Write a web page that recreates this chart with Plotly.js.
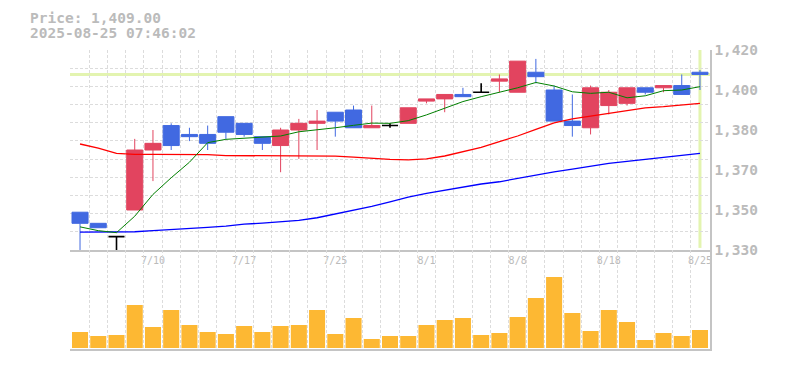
<!DOCTYPE html>
<html><head><meta charset="utf-8">
<script src="https://cdn.plot.ly/plotly-3.0.1.min.js"></script>
<style>html,body{margin:0;padding:0;background:#fff}#chart{width:785px;height:370px}</style>
</head><body><div id="chart"></div>
<script>
const dates = ['7/4','7/7','7/8','7/9','7/10','7/11','7/14','7/15','7/16','7/17','7/18','7/22','7/23','7/24','7/25','7/28','7/29','7/30','7/31','8/1','8/4','8/5','8/6','8/7','8/8','8/12','8/13','8/14','8/15','8/18','8/19','8/20','8/21','8/22','8/25'];
const opens  = [1347,1342,1336,1348,1375,1386,1382,1382,1390,1387,1381,1377,1384,1387,1392,1393,1385,1386,1387,1397,1398,1400,1401,1406,1401,1410,1402,1388,1385,1395,1396,1403,1403,1404,1410];
const highs  = [1347,1342,1336,1380,1384,1387,1385,1386,1390,1387,1381,1385,1389,1393,1392,1395,1395,1387,1394,1398,1400,1403,1405,1409,1415,1416,1404,1400,1404,1402,1403,1403,1404,1409,1411];
const lows   = [1330,1340,1330,1348,1361,1375,1379,1375,1380,1381,1375,1365,1371,1375,1381,1385,1385,1385,1387,1396,1392,1399,1401,1401,1401,1405,1388,1381,1382,1391,1395,1400,1401,1400,1402];
const closes = [1342,1340,1336,1375,1378,1377,1381,1378,1383,1382,1378,1384,1387,1388,1388,1385,1386,1386,1394,1398,1400,1399,1401,1407,1415,1408,1388,1386,1403,1401,1403,1401,1404,1400,1409];
const ma5  = [1340.4,1338.7,1337.8,1345.2,1355.0,1362.5,1369.5,1378.3,1379.8,1380.3,1380.5,1381.3,1383.2,1384.0,1385.0,1386.1,1387.1,1387.0,1388.2,1390.8,1393.8,1396.8,1399.0,1401.0,1403.0,1405.4,1403.8,1401.2,1400.5,1401.0,1398.5,1399.4,1401.7,1402.0,1403.5];
const ma25 = [1377.7,1375.8,1373.5,1373.0,1373.0,1373.0,1372.9,1372.9,1372.5,1372.5,1372.3,1372.2,1372.2,1372.2,1372.2,1371.8,1371.2,1370.8,1370.6,1371.0,1372.3,1374.2,1376.2,1378.8,1381.3,1384.3,1387.2,1389.0,1390.3,1391.5,1393.0,1394.0,1394.5,1395.2,1396.0];
const ma75 = [1338.0,1338.0,1338.0,1338.2,1338.7,1339.1,1339.7,1340.2,1340.7,1341.6,1342.1,1342.7,1343.3,1344.5,1346.2,1347.8,1349.6,1351.7,1353.8,1355.5,1357.0,1358.3,1359.7,1360.7,1362.2,1364.0,1365.2,1366.4,1367.8,1369.0,1369.9,1370.8,1371.7,1372.6,1373.5];
const volumes = [16000,12000,13000,43000,21000,38000,23000,16000,14000,22000,16000,22000,23000,38000,14000,30000,9000,12000,12000,23000,28000,30000,13000,15000,31000,50000,71000,35000,17000,38000,26000,8000,15000,12000,18000];
const labelDates = ['7/10','7/17','7/25','8/1','8/8','8/18','8/25'];
const yTickVals = [1330,1348,1366,1384,1402,1420];
const yTickText = ['1,330','1,350','1,370','1,380','1,400','1,420'];
const priceText = 'Price: 1,409.00';
const timeText = '2025-08-25 07:46:02';

const idx = dates.map((d,i)=>i);
const upIdx = idx.filter(i=>closes[i]>opens[i]);
const downIdx = idx.filter(i=>closes[i]<opens[i]);
const flatIdx = idx.filter(i=>closes[i]===opens[i]);
const RED='#e2445f', BLUE='#4169e1', GRID='#dcdcdc', AXL='#c4c4c4', TXT='#bbbbbb';
const last = dates.length-1;

function cs(ix,color,lw){
  return {type:'candlestick', x:ix, open:ix.map(i=>opens[i]), high:ix.map(i=>highs[i]), low:ix.map(i=>lows[i]), close:ix.map(i=>closes[i]),
    increasing:{line:{color:color,width:lw},fillcolor:color}, decreasing:{line:{color:color,width:lw},fillcolor:color},
    whiskerwidth:0, hoverinfo:'none', xaxis:'x', yaxis:'y', showlegend:false};
}
function ma(vals,color,w){
  return {type:'scatter', mode:'lines', x:idx, y:vals, line:{color:color,width:w}, hoverinfo:'none', xaxis:'x', yaxis:'y', showlegend:false};
}
const traces = [
  ma(ma75,'#0000ff',1.3), ma(ma25,'#ff0000',1.3), ma(ma5,'#008000',1),
  cs(upIdx,RED,1), cs(downIdx,BLUE,1), cs(flatIdx,'#000000',1.6),
  {type:'bar', x:idx, y:volumes, marker:{color:'#fdb833'}, xaxis:'x2', yaxis:'y2', hoverinfo:'none', showlegend:false},
  {type:'scatter', mode:'markers', x:[last], y:[closes[last]], marker:{opacity:0,size:1}, xaxis:'x', yaxis:'y3', hoverinfo:'none', showlegend:false}
];
const mainBottom = 99/299;
const xr = [-0.55, last+0.55];
const yr = [yTickVals[0]-0.01, yTickVals[yTickVals.length-1]+0.01];
const layout = {
  width:785, height:370, margin:{l:70,r:75,t:50,b:21},
  paper_bgcolor:'#fff', plot_bgcolor:'#fff', showlegend:false,
  boxmode:'overlay', boxgap:0.12, boxgroupgap:0, bargap:0.12,
  font:{family:'DejaVu Sans Mono, monospace', color:TXT, size:14},
  xaxis:{domain:[0,1], anchor:'y', range:xr, tickmode:'array', tickvals:labelDates.map(d=>dates.indexOf(d)), ticktext:labelDates,
    ticks:'', tickfont:{family:'DejaVu Sans Mono', size:10, color:TXT}, showgrid:false,
    minor:{tick0:-0.5, dtick:1, showgrid:true, gridcolor:GRID, griddash:'3px,2px', gridwidth:1, ticks:''},
    showline:true, linecolor:AXL, linewidth:1.5, zeroline:false, rangeslider:{visible:false}, fixedrange:true},
  yaxis:{domain:[mainBottom,1], anchor:'x', side:'right', range:yr, tickmode:'array', tickvals:yTickVals, ticktext:yTickText,
    showgrid:false, showline:true, linecolor:AXL, linewidth:1.5, ticks:'', zeroline:false,
    tickfont:{family:'DejaVu Sans Mono', size:14.5, color:TXT, weight:'bold'}, ticklabelstandoff:0, fixedrange:true},
  yaxis3:{overlaying:'y', anchor:'x', side:'left', range:yr, tickmode:'linear', tick0:yTickVals[0], dtick:(yTickVals[yTickVals.length-1]-yTickVals[0])/11,
    showticklabels:false, ticks:'', showline:false, showgrid:true, gridcolor:GRID, griddash:'3px,2px', gridwidth:1, zeroline:false, fixedrange:true},
  xaxis2:{domain:[0,1], anchor:'y2', range:xr, tickmode:'linear', tick0:-0.5, dtick:1, showticklabels:false, ticks:'',
    showgrid:true, gridcolor:GRID, griddash:'3px,2px', gridwidth:1, showline:true, linecolor:AXL, linewidth:1.5, zeroline:false, fixedrange:true},
  yaxis2:{domain:[0,mainBottom], anchor:'x2', side:'right', range:[-1000,98000], showticklabels:false, showgrid:false, ticks:'',
    showline:true, linecolor:AXL, linewidth:1.5, zeroline:false, fixedrange:true},
  shapes:[
    {type:'line', xref:'paper', x0:0, x1:1, yref:'y', y0:closes[last], y1:closes[last], line:{color:'#e3f4b0', width:3}, layer:'below'},
    {type:'line', xref:'x', x0:last, x1:last, yref:'paper', y0:mainBottom+0.007, y1:1, line:{color:'#e3f4b0', width:3}, layer:'below'}
  ],
  annotations:[
    {text:'<span style="font-size:14.5px">'+priceText+'</span><br><span style="font-size:14.5px">'+timeText+'</span>',
     xref:'paper', yref:'paper', x:-42/640, y:(349-25)/299, xanchor:'left', yanchor:'middle', align:'left', showarrow:false,
     font:{size:11.2,color:TXT,weight:'bold'}}
  ]
};
Plotly.newPlot('chart', traces, layout, {displayModeBar:false, staticPlot:true});
</script></body></html>
